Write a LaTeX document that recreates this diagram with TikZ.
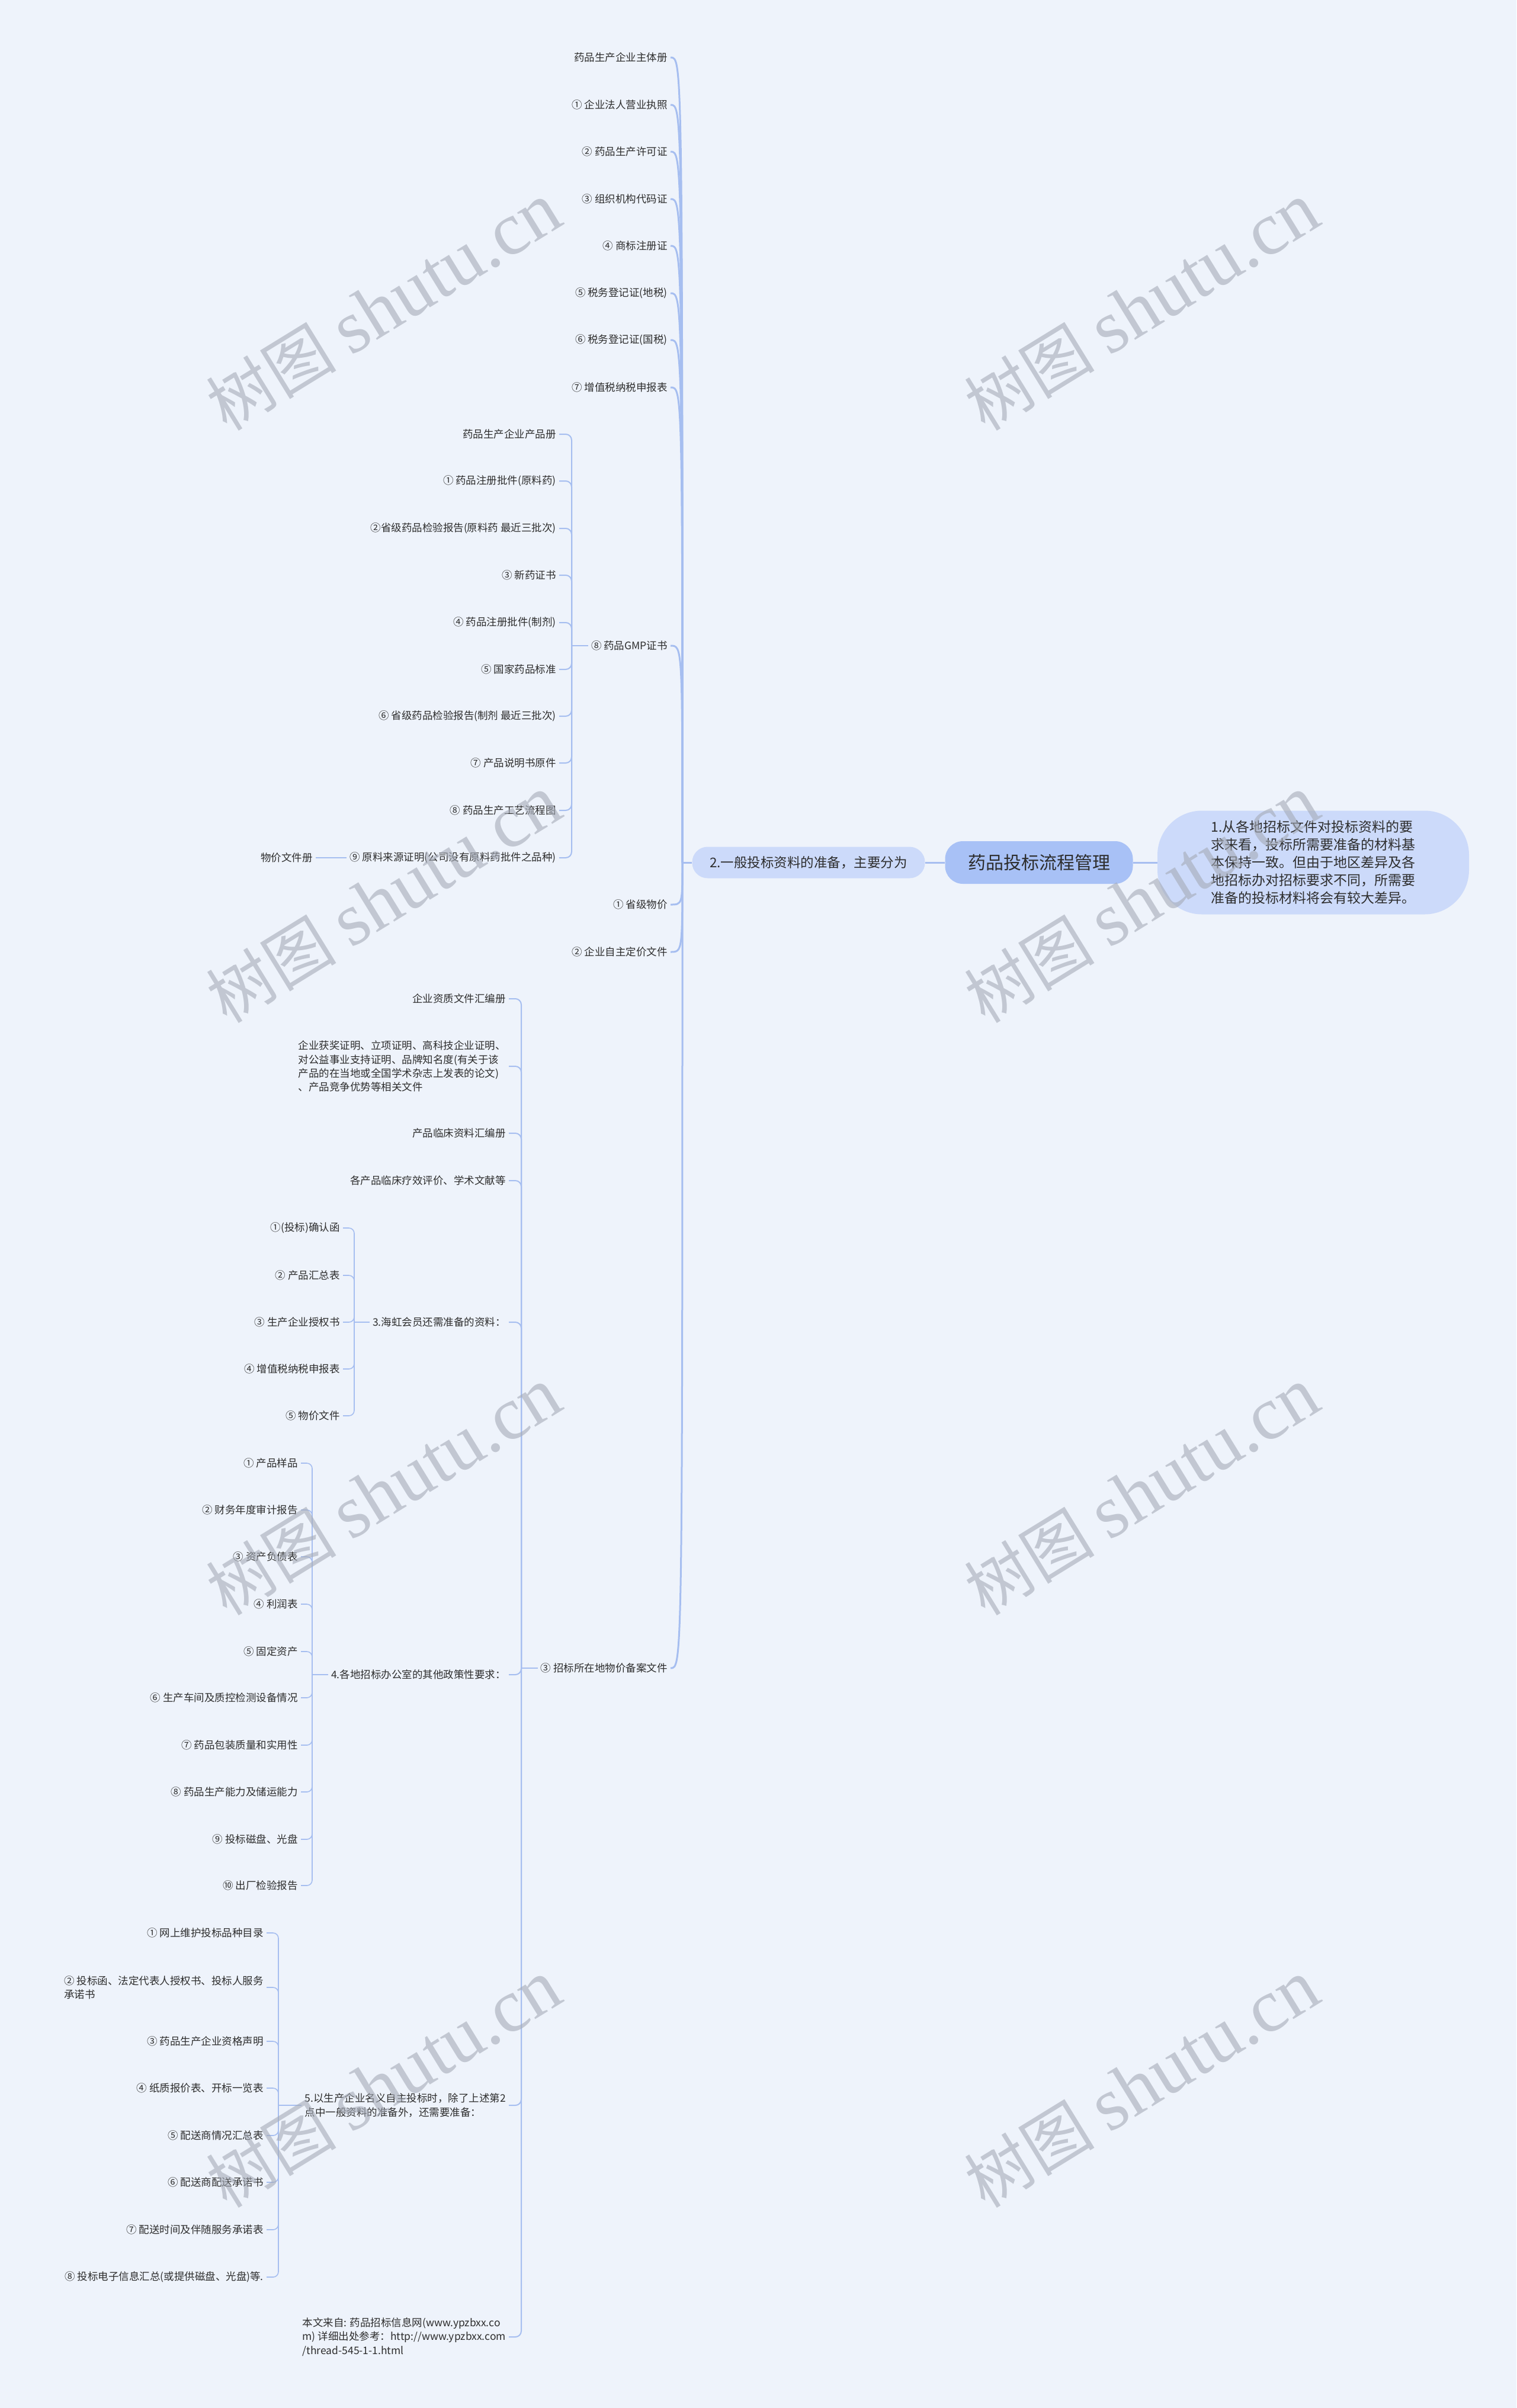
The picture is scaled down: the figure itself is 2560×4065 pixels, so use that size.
\documentclass[tikz,border=0pt]{standalone}
\usepackage{fontspec}
\setmainfont{Noto Sans CJK SC}
\newfontfamily\wmlatin{Liberation Serif}
\usepackage{tikz}
\usetikzlibrary{calc, positioning}

\definecolor{bgblue}{RGB}{238,243,251}
\definecolor{linkblue}{RGB}{166,190,240}
\definecolor{rootfill}{RGB}{168,193,246}
\definecolor{subfill}{RGB}{204,218,250}
\definecolor{txtgray}{RGB}{45,45,45}
\definecolor{wmgray}{RGB}{165,171,183}

\begin{document}
\begin{tikzpicture}[x=1pt, y=-1pt,
    leaf/.style={anchor=east, inner xsep=5pt, inner ysep=2pt, text=txtgray, align=left, font=\fontsize{17.5}{23.3}\selectfont},
    trunk/.style={draw=linkblue, line width=3pt},
    branch/.style={draw=linkblue, line width=2pt, rounded corners=10pt},
    twig/.style={draw=linkblue, line width=1.6pt, rounded corners=9pt},
    wmtext/.style={rotate=31.6, text=wmgray, opacity=0.6, inner sep=0pt, font=\fontsize{110}{120}\selectfont}]

    % Background
    \fill[bgblue] (0,0) rectangle (2560,4065);
    \useasboundingbox (0,0) rectangle (2560,4065);

    % Centre topics
    \node[fill=rootfill, rounded corners=30pt, minimum width=317pt, minimum height=72pt, text=txtgray, font=\fontsize{30}{36}\selectfont] (root) at (1754,1456) {药品投标流程管理};
    \node[fill=subfill, rounded corners=26pt, minimum width=393pt, minimum height=53pt, text=txtgray, font=\fontsize{22.5}{28}\selectfont] (general) at (1365,1456) {2.一般投标资料的准备，主要分为};
    \node[fill=subfill, rounded corners=75pt, minimum width=526pt, minimum height=175pt, align=left, text=txtgray, font=\fontsize{23}{30}\selectfont] (intro) at (2217,1456) {1.从各地招标文件对投标资料的要\\求来看，投标所需要准备的材料基\\本保持一致。但由于地区差异及各\\地招标办对招标要求不同，所需要\\准备的投标材料将会有较大差异。};
    \draw[trunk] (root.east) -- (intro.west);
    \draw[trunk] (root.west) -- (general.west -| general.east);

    % Level one
    \coordinate (hub) at (1152,1456);
    \node[leaf] (a1) at (1132,97) {药品生产企业主体册};
    \node[leaf] (a2) at (1132,177) {① 企业法人营业执照};
    \node[leaf] (a3) at (1132,256) {② 药品生产许可证};
    \node[leaf] (a4) at (1132,336) {③ 组织机构代码证};
    \node[leaf] (a5) at (1132,415) {④ 商标注册证};
    \node[leaf] (a6) at (1132,495) {⑤ 税务登记证(地税)};
    \node[leaf] (a7) at (1132,574) {⑥ 税务登记证(国税)};
    \node[leaf] (a8) at (1132,654) {⑦ 增值税纳税申报表};
    \node[leaf] (a9) at (1132,1090) {⑧ 药品GMP证书};
    \node[leaf] (a10) at (1132,1527) {① 省级物价};
    \node[leaf] (a11) at (1132,1607) {② 企业自主定价文件};
    \node[leaf] (a12) at (1132,2816) {③ 招标所在地物价备案文件};
    \draw[trunk] (general.west) -- (hub);
    \draw[trunk] (hub) .. controls (a1.east -| hub) .. (a1.east);
    \draw[trunk] (hub) .. controls (a2.east -| hub) .. (a2.east);
    \draw[trunk] (hub) .. controls (a3.east -| hub) .. (a3.east);
    \draw[trunk] (hub) .. controls (a4.east -| hub) .. (a4.east);
    \draw[trunk] (hub) .. controls (a5.east -| hub) .. (a5.east);
    \draw[trunk] (hub) .. controls (a6.east -| hub) .. (a6.east);
    \draw[trunk] (hub) .. controls (a7.east -| hub) .. (a7.east);
    \draw[trunk] (hub) .. controls (a8.east -| hub) .. (a8.east);
    \draw[trunk] (hub) .. controls (a9.east -| hub) .. (a9.east);
    \draw[trunk] (hub) .. controls (a10.east -| hub) .. (a10.east);
    \draw[trunk] (hub) .. controls (a11.east -| hub) .. (a11.east);
    \draw[trunk] (hub) .. controls (a12.east -| hub) .. (a12.east);

    % GMP certificate
    \coordinate (gs) at (965,1090);
    \node[leaf] (g0) at (944,733) {药品生产企业产品册};
    \node[leaf] (g1) at (944,812) {① 药品注册批件(原料药)};
    \node[leaf] (g2) at (944,892) {②省级药品检验报告(原料药 最近三批次)};
    \node[leaf] (g3) at (944,971) {③ 新药证书};
    \node[leaf] (g4) at (944,1051) {④ 药品注册批件(制剂)};
    \node[leaf] (g5) at (944,1130) {⑤ 国家药品标准};
    \node[leaf] (g6) at (944,1209) {⑥ 省级药品检验报告(制剂 最近三批次)};
    \node[leaf] (g7) at (944,1288) {⑦ 产品说明书原件};
    \node[leaf] (g8) at (944,1368) {⑧ 药品生产工艺流程图};
    \node[leaf] (g9) at (944,1448) {⑨ 原料来源证明(公司没有原料药批件之品种)};
    \node[leaf] (wj) at (533,1448) {物价文件册};
    \draw[branch] (gs) -- (a9.west);
    \draw[branch] (g0.east) -| (gs);
    \draw[branch] (g1.east) -| (gs);
    \draw[branch] (g2.east) -| (gs);
    \draw[branch] (g3.east) -| (gs);
    \draw[branch] (g4.east) -| (gs);
    \draw[branch] (g5.east) -| (gs);
    \draw[branch] (g6.east) -| (gs);
    \draw[branch] (g7.east) -| (gs);
    \draw[branch] (g8.east) -| (gs);
    \draw[branch] (g9.east) -| (gs);
    \draw[twig] (g9.west) -- (wj.east);

    % Local price filing
    \coordinate (bs) at (880,2816);
    \node[leaf] (b1) at (859,1686) {企业资质文件汇编册};
    \node[leaf] (b2) at (859,1800) {企业获奖证明、立项证明、高科技企业证明、\\对公益事业支持证明、品牌知名度(有关于该\\产品的在当地或全国学术杂志上发表的论文)\\、产品竞争优势等相关文件};
    \node[leaf] (b3) at (859,1913) {产品临床资料汇编册};
    \node[leaf] (b4) at (859,1993) {各产品临床疗效评价、学术文献等};
    \node[leaf] (b5) at (859,2232) {3.海虹会员还需准备的资料：};
    \node[leaf] (b6) at (859,2827) {4.各地招标办公室的其他政策性要求：};
    \node[leaf] (b7) at (859,3554) {5.以生产企业名义自主投标时，除了上述第2\\点中一般资料的准备外，还需要准备：};
    \node[leaf] (b8) at (859,3945) {本文来自: 药品招标信息网(www.ypzbxx.co\\m) 详细出处参考：http://www.ypzbxx.com\\/thread-545-1-1.html};
    \draw[branch] (bs) -- (a12.west);
    \draw[branch] (b1.east) -| (bs);
    \draw[branch] (b2.east) -| (bs);
    \draw[branch] (b3.east) -| (bs);
    \draw[branch] (b4.east) -| (bs);
    \draw[branch] (b5.east) -| (bs);
    \draw[branch] (b6.east) -| (bs);
    \draw[branch] (b7.east) -| (bs);
    \draw[branch] (b8.east) -| (bs);

    % Haihong members
    \coordinate (hs) at (598,2232);
    \node[leaf] (h1) at (579,2073) {①(投标)确认函};
    \node[leaf] (h2) at (579,2153) {② 产品汇总表};
    \node[leaf] (h3) at (579,2232) {③ 生产企业授权书};
    \node[leaf] (h4) at (579,2311) {④ 增值税纳税申报表};
    \node[leaf] (h5) at (579,2390) {⑤ 物价文件};
    \draw[twig] (hs) -- (b5.west);
    \draw[twig] (h1.east) -| (hs);
    \draw[twig] (h2.east) -| (hs);
    \draw[twig] (h3.east) -| (hs);
    \draw[twig] (h4.east) -| (hs);
    \draw[twig] (h5.east) -| (hs);

    % Policy requirements
    \coordinate (ps) at (527,2827);
    \node[leaf] (p1) at (508,2470) {① 产品样品};
    \node[leaf] (p2) at (508,2549) {② 财务年度审计报告};
    \node[leaf] (p3) at (508,2628) {③ 资产负债表};
    \node[leaf] (p4) at (508,2708) {④ 利润表};
    \node[leaf] (p5) at (508,2788) {⑤ 固定资产};
    \node[leaf] (p6) at (508,2866) {⑥ 生产车间及质控检测设备情况};
    \node[leaf] (p7) at (508,2946) {⑦ 药品包装质量和实用性};
    \node[leaf] (p8) at (508,3025) {⑧ 药品生产能力及储运能力};
    \node[leaf] (p9) at (508,3105) {⑨ 投标磁盘、光盘};
    \node[leaf] (p10) at (508,3183) {⑩ 出厂检验报告};
    \draw[twig] (ps) -- (b6.west);
    \draw[twig] (p1.east) -| (ps);
    \draw[twig] (p2.east) -| (ps);
    \draw[twig] (p3.east) -| (ps);
    \draw[twig] (p4.east) -| (ps);
    \draw[twig] (p5.east) -| (ps);
    \draw[twig] (p6.east) -| (ps);
    \draw[twig] (p7.east) -| (ps);
    \draw[twig] (p8.east) -| (ps);
    \draw[twig] (p9.east) -| (ps);
    \draw[twig] (p10.east) -| (ps);

    % Own-name bidding
    \coordinate (qs) at (470,3554);
    \node[leaf] (q1) at (450,3263) {① 网上维护投标品种目录};
    \node[leaf] (q2) at (450,3355) {② 投标函、法定代表人授权书、投标人服务\\承诺书};
    \node[leaf] (q3) at (450,3446) {③ 药品生产企业资格声明};
    \node[leaf] (q4) at (450,3525) {④ 纸质报价表、开标一览表};
    \node[leaf] (q5) at (450,3605) {⑤ 配送商情况汇总表};
    \node[leaf] (q6) at (450,3684) {⑥ 配送商配送承诺书};
    \node[leaf] (q7) at (450,3764) {⑦ 配送时间及伴随服务承诺表};
    \node[leaf] (q8) at (450,3844) {⑧ 投标电子信息汇总(或提供磁盘、光盘)等.};
    \draw[twig] (qs) -- (b7.west);
    \draw[twig] (q1.east) -| (qs);
    \draw[twig] (q2.east) -| (qs);
    \draw[twig] (q3.east) -| (qs);
    \draw[twig] (q4.east) -| (qs);
    \draw[twig] (q5.east) -| (qs);
    \draw[twig] (q6.east) -| (qs);
    \draw[twig] (q7.east) -| (qs);
    \draw[twig] (q8.east) -| (qs);

    % Watermarks
    \node[wmtext] (wm1) at (648,518) {树图 {\wmlatin\fontsize{127}{140}\selectfont shutu.cn}};
    \node[wmtext] (wm2) at (1928,518) {树图 {\wmlatin\fontsize{127}{140}\selectfont shutu.cn}};
    \node[wmtext] (wm3) at (648,1518) {树图 {\wmlatin\fontsize{127}{140}\selectfont shutu.cn}};
    \node[wmtext] (wm4) at (1928,1518) {树图 {\wmlatin\fontsize{127}{140}\selectfont shutu.cn}};
    \node[wmtext] (wm5) at (648,2518) {树图 {\wmlatin\fontsize{127}{140}\selectfont shutu.cn}};
    \node[wmtext] (wm6) at (1928,2518) {树图 {\wmlatin\fontsize{127}{140}\selectfont shutu.cn}};
    \node[wmtext] (wm7) at (648,3518) {树图 {\wmlatin\fontsize{127}{140}\selectfont shutu.cn}};
    \node[wmtext] (wm8) at (1928,3518) {树图 {\wmlatin\fontsize{127}{140}\selectfont shutu.cn}};
\end{tikzpicture}
\end{document}
